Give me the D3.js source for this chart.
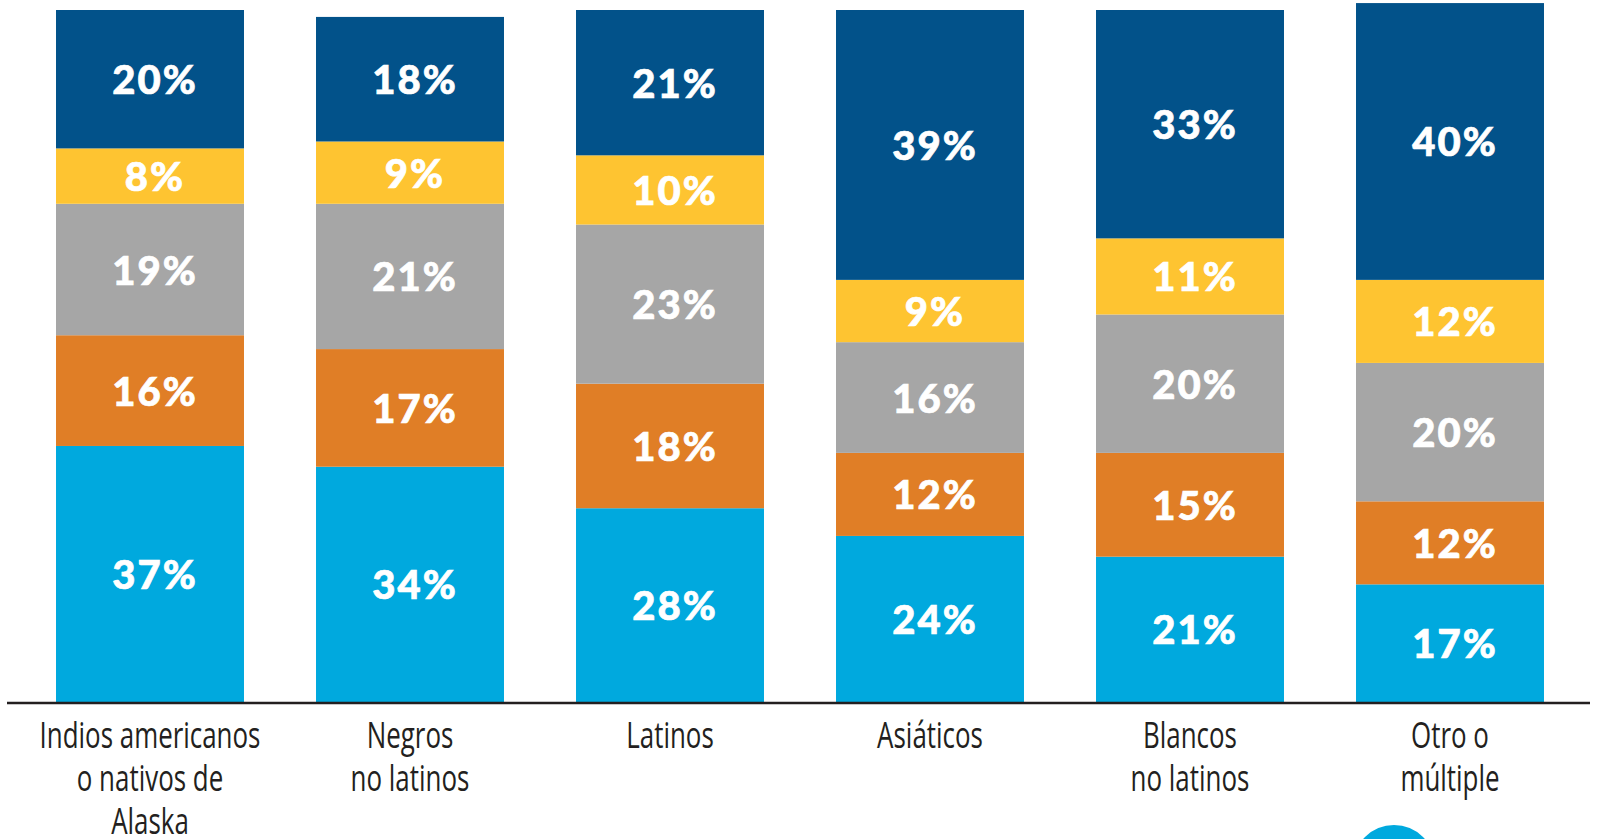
<!DOCTYPE html>
<html>
<head>
<meta charset="utf-8">
<script src="https://cdn.jsdelivr.net/npm/d3@7"></script>
<style>
  body { margin: 0; background: #fff; overflow: hidden; }
  svg { display: block; }
</style>
</head>
<body>
<div id="chart"></div>
<script>
// categories, bottom to top series
const categories = ["Indios americanos|o nativos de|Alaska", "Negros|no latinos", "Latinos", "Asiáticos", "Blancos|no latinos", "Otro o|múltiple"];
const seriesKeys = ["celeste", "naranja", "gris", "amarillo", "azul"];
const celeste = [37, 34, 28, 24, 21, 17];
const naranja = [16, 17, 18, 12, 15, 12];
const gris = [19, 21, 23, 16, 20, 20];
const amarillo = [8, 9, 10, 9, 11, 12];
const azul = [20, 18, 21, 39, 33, 40];
const colors = ["#00a9de", "#e07e26", "#a6a6a6", "#fec431", "#02528a"];

const width = 1599, height = 839;

const table = categories.map((c, i) => ({
  cat: c, celeste: celeste[i], naranja: naranja[i], gris: gris[i], amarillo: amarillo[i], azul: azul[i]
}));

const svg = d3.select("#chart")
  .append("svg")
    .attr("width", width)
    .attr("height", height);

const x = d3.scaleBand()
  .domain(categories)
  .range([20, 1580])
  .paddingInner(0.277)
  .paddingOuter(0.1385);

const y = d3.scaleLinear()
  .domain([0, 100])
  .range([702, 10]);

const color = d3.scaleOrdinal().domain(seriesKeys).range(colors);

const stacked = d3.stack().keys(seriesKeys)(table);

const layers = svg.selectAll(".layer")
  .data(stacked)
  .enter()
  .append("g")
    .attr("class", "layer")
    .attr("fill", d => color(d.key));

layers.selectAll("rect")
  .data(d => d)
  .enter()
  .append("rect")
    .attr("x", d => x(d.data.cat))
    .attr("y", d => y(d[1]))
    .attr("width", x.bandwidth())
    .attr("height", d => y(d[0]) - y(d[1]));

// value labels
layers.selectAll("text")
  .data(d => d.map(v => ({v, key: d.key})))
  .enter()
  .append("text")
    .attr("x", d => x(d.v.data.cat) + x.bandwidth() / 2 + 5)
    .attr("y", d => (y(d.v[0]) + y(d.v[1])) / 2 + 15)
    .attr("text-anchor", "middle")
    .attr("fill", "#fff")
    .attr("stroke", "#fff")
    .attr("stroke-width", 0.7)
    .style("font-family", "Lato, 'Open Sans', sans-serif")
    .style("font-weight", 900)
    .style("font-size", "40px")
    .style("letter-spacing", "2px")
    .text(d => d.v.data[d.key] + "%");

// axis
const sx = 0.72;
const xAxis = d3.axisBottom(x).tickSize(0).tickFormat("");
const gx = svg.append("g")
  .attr("transform", `translate(0, 702)`)
  .call(xAxis);
gx.select(".domain").remove();

gx.selectAll(".tick")
  .append("text")
    .attr("transform", `scale(${sx}, 1)`)
    .attr("fill", "#231f20")
    .attr("text-anchor", "middle")
    .style("font-family", "'Open Sans', sans-serif")
    .style("font-size", "36px")
    .selectAll("tspan")
    .data(d => d.split("|"))
    .enter()
    .append("tspan")
      .attr("x", 0)
      .attr("y", (d, i) => 46 + i * 43)
      .text(d => d);

svg.append("line")
  .attr("x1", 7)
  .attr("x2", 1590)
  .attr("y1", 703)
  .attr("y2", 703)
  .attr("stroke", "#231f20")
  .attr("stroke-width", 2.5);

// blue dot at the bottom edge
svg.append("circle")
  .attr("cx", 1394)
  .attr("cy", 866)
  .attr("r", 41)
  .attr("fill", "#00a9de");
</script>
</body>
</html>
